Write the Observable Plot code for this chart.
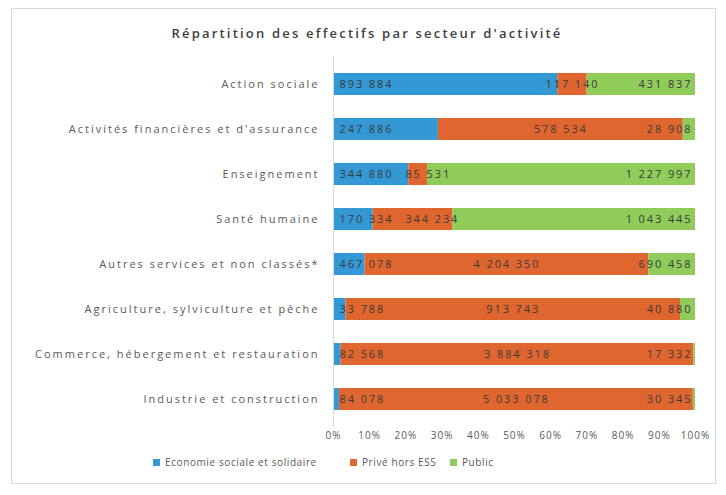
<!DOCTYPE html>
<html>
<head>
<meta charset="utf-8">
<script src="https://cdn.jsdelivr.net/npm/d3@7"></script>
<script src="https://cdn.jsdelivr.net/npm/@observablehq/plot@0.6"></script>
<style>
  html, body { margin: 0; padding: 0; background: #fff; }
  #wrap { position: relative; width: 726px; height: 495px; font-family: "Open Sans", sans-serif; }
  #frame { position: absolute; left: 11px; top: 8px; width: 705px; height: 476px; border: 1px solid #d9d9d9; box-sizing: border-box; pointer-events: none; }
  #title { height: 48px; box-sizing: border-box; padding-top: 24px; padding-left: 8px; line-height: 18px; text-align: center; font-size: 13px; font-weight: 600; color: #404040; letter-spacing: 2.2px; }
  #legend { display: flex; align-items: center; padding-left: 153px; height: 28px; font-size: 10px; color: #595959; letter-spacing: 0.6px; }
  .item { display: flex; align-items: center; }
  .sw { width: 7px; height: 7px; margin-right: 5px; flex: none; }
  #chart g[aria-label="y-axis tick label"] text { letter-spacing: 2px; }
  #chart g[aria-label="x-axis tick label"] text { letter-spacing: 1px; }
  #chart g[aria-label="text"] text { letter-spacing: 1.9px; }
</style>
</head>
<body>
<div id="wrap">
  <div id="frame"></div>
  <div id="title">Répartition des effectifs par secteur d'activité</div>
  <div id="chart"></div>
  <div id="legend"></div>
</div>
<script>
const categories = [
  "Action sociale",
  "Activités financières et d'assurance",
  "Enseignement",
  "Santé humaine",
  "Autres services et non classés*",
  "Agriculture, sylviculture et pêche",
  "Commerce, hébergement et restauration",
  "Industrie et construction"
];
const series = ["Economie sociale et solidaire", "Privé hors ESS", "Public"];
const essValues    = [893884, 247886, 344880, 170334, 467078, 33788, 82568, 84078];
const priveValues  = [117140, 578534, 85531, 344234, 4204350, 913743, 3884318, 5033078];
const publicValues = [431837, 28908, 1227997, 1043445, 690458, 40880, 17332, 30345];
const xTicks = [0, 0.1, 0.2, 0.3, 0.4, 0.5, 0.6, 0.7, 0.8, 0.9, 1];
const colors = ["#3498d4", "#e0662f", "#8fcc5a"];
const legendWidths = [197, 100, 60];

const W = 726, ML = 333, MR = 31;
const LABEL_FONT = 11, LABEL_SPACING = 1.9;

const fr = d3.formatLocale({decimal: ",", thousands: "\u00a0", grouping: [3], currency: ["", " €"]});
const fmt = fr.format(",d");

// text measurement for label collision avoidance
const ctx = document.createElement("canvas").getContext("2d");
ctx.font = `${LABEL_FONT}px "Open Sans"`;
const textWidth = s => ctx.measureText(s).width + LABEL_SPACING * s.length;

const xScale = Plot.scale({x: {domain: [0, 1], range: [ML, W - MR]}});

const valuesBySeries = [essValues, priveValues, publicValues];
const rows = [];
categories.forEach((cat, i) => {
  const total = valuesBySeries.reduce((s, arr) => s + arr[i], 0);
  let acc = 0;
  const rowItems = [];
  series.forEach((s, j) => {
    const v = valuesBySeries[j][i];
    const x1 = acc / total;
    acc += v;
    const x2 = acc / total;
    rowItems.push({cat, serie: s, value: v, x1, x2, xm: (x1 + x2) / 2, k: j, label: fmt(v)});
  });
  // label placement: ESS at segment start, Privé centred, Public at segment end; avoid overlaps
  let prevEnd = -Infinity;
  rowItems.forEach(d => {
    const w = textWidth(d.label);
    let left;
    if (d.k === 0) left = xScale.apply(d.x1) + 6;
    else if (d.k === 1) left = xScale.apply(d.xm) - w / 2;
    else left = xScale.apply(d.x2) - 3 - w;
    if (left < prevEnd + 12) left = prevEnd + 12;
    prevEnd = left + w;
    d.lx = xScale.invert(left);
    rows.push(d);
  });
});

const plot = Plot.plot({
  width: W,
  height: 400,
  marginLeft: ML,
  marginRight: MR,
  marginTop: 12,
  marginBottom: 25,
  style: {fontFamily: "Open Sans, sans-serif", color: "#595959", background: "transparent"},
  x: {domain: [0, 1], axis: null},
  y: {domain: categories, paddingInner: 0.52, paddingOuter: 0.26, axis: null},
  color: {domain: series, range: colors},
  marks: [
    Plot.barX(rows, {x1: "x1", x2: "x2", y: "cat", fill: "serie"}),
    Plot.ruleX([0], {stroke: "#d9d9d9", strokeWidth: 1, insetTop: -4, insetBottom: -4}),
    Plot.text(rows, {x: "lx", y: "cat", text: "label", textAnchor: "start", fontSize: LABEL_FONT, fill: "#3a3a3a"}),
    Plot.axisX({ticks: xTicks, tickFormat: d3.format(".0%"), tickSize: 0, tickPadding: 8, fontSize: 10, label: null, fill: "#595959"}),
    Plot.axisY({tickSize: 0, tickPadding: 14, fontSize: 11, label: null, fill: "#595959"})
  ]
});
document.getElementById("chart").appendChild(plot);

const legend = document.getElementById("legend");
series.forEach((s, j) => {
  const it = document.createElement("div");
  it.className = "item";
  it.style.width = legendWidths[j] + "px";
  const sw = document.createElement("span");
  sw.className = "sw";
  sw.style.background = colors[j];
  const tx = document.createElement("span");
  tx.textContent = s;
  it.appendChild(sw);
  it.appendChild(tx);
  legend.appendChild(it);
});
</script>
</body>
</html>
